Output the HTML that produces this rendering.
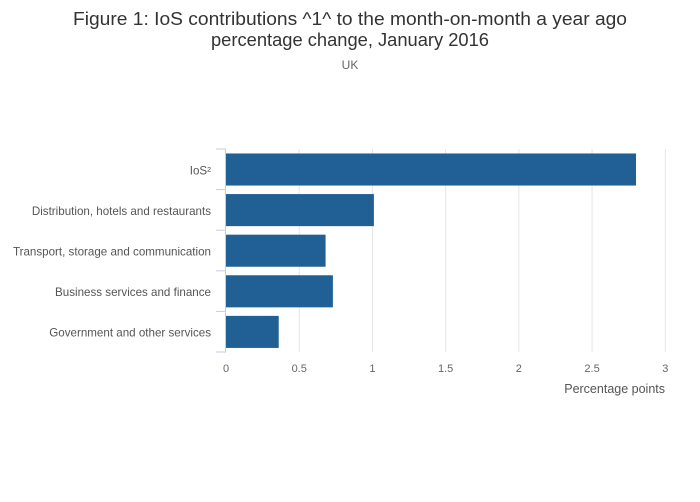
<!DOCTYPE html>
<html><head><meta charset="utf-8"><style>
body{margin:0;background:#fff;}
svg{display:block;font-family:"Liberation Sans",sans-serif;}
</style></head><body>
<svg id="chart" width="700" height="502" viewBox="0 0 700 502">
<text x="350" y="25" font-size="18" fill="#333" text-anchor="middle" textLength="554" lengthAdjust="spacingAndGlyphs">Figure 1: IoS contributions ^1^ to the month-on-month a year ago</text>
<text x="350" y="46" font-size="18" fill="#333" text-anchor="middle" textLength="278" lengthAdjust="spacingAndGlyphs">percentage change, January 2016</text>
<text x="350" y="69" font-size="12" fill="#666" text-anchor="middle">UK</text>
<g id="grid"></g><g id="bars"></g><g id="yaxis"></g><g id="xaxis"></g>
<text x="665" y="393" font-size="12.5" fill="#555" text-anchor="end">Percentage points</text>
</svg>
<script>
const categories=["IoS²","Distribution, hotels and restaurants","Transport, storage and communication","Business services and finance","Government and other services"];
const values=[2.80,1.01,0.68,0.73,0.36];
const xTicks=[0,0.5,1,1.5,2,2.5,3];
const xTickLabels=["0","0.5","1","1.5","2","2.5","3"];
const NS="http://www.w3.org/2000/svg";
const x0=226,x1=665.3,xMax=3,yTop=149,yBot=352;
const band=(yBot-yTop)/categories.length;
function xs(v){return x0+(x1-x0)*v/xMax;}
function ys(i){return yTop+band*i;}
function mk(tag,attrs,parent){const e=document.createElementNS(NS,tag);for(const k in attrs)e.setAttribute(k,attrs[k]);document.getElementById(parent).appendChild(e);return e;}
xTicks.forEach((t,i)=>{
 if(t>0){const g=mk('line',{x1:xs(t),x2:xs(t),y1:yTop,y2:yBot,stroke:'#e4e4e4','stroke-width':1},'grid');
 
 }
 const l=mk('text',{x:xs(t),y:372,'font-size':11,fill:'#666','text-anchor':'middle'},'xaxis');
 l.textContent=xTickLabels[i];
 
 
});
categories.forEach((c,i)=>{
 const b=mk('rect',{x:xs(0),y:ys(i)+band*0.11,width:xs(values[i])-xs(0),height:band*0.79,fill:'#206095'},'bars');
 
 
 const t=mk('text',{x:211,y:ys(i)+band/2+5,'font-size':11.6,fill:'#555','text-anchor':'end'},'yaxis');
 t.textContent=c;
 
 
});
for(let i=0;i<=categories.length;i++){
 const tk=mk('line',{x1:216,x2:226,y1:ys(i),y2:ys(i),stroke:'#c5cde0','stroke-width':1},'yaxis');
 
 
}
const ax=mk('line',{x1:225.5,x2:225.5,y1:yTop,y2:yBot,stroke:'#c5cde0','stroke-width':1},'yaxis');


</script>
</body></html>
